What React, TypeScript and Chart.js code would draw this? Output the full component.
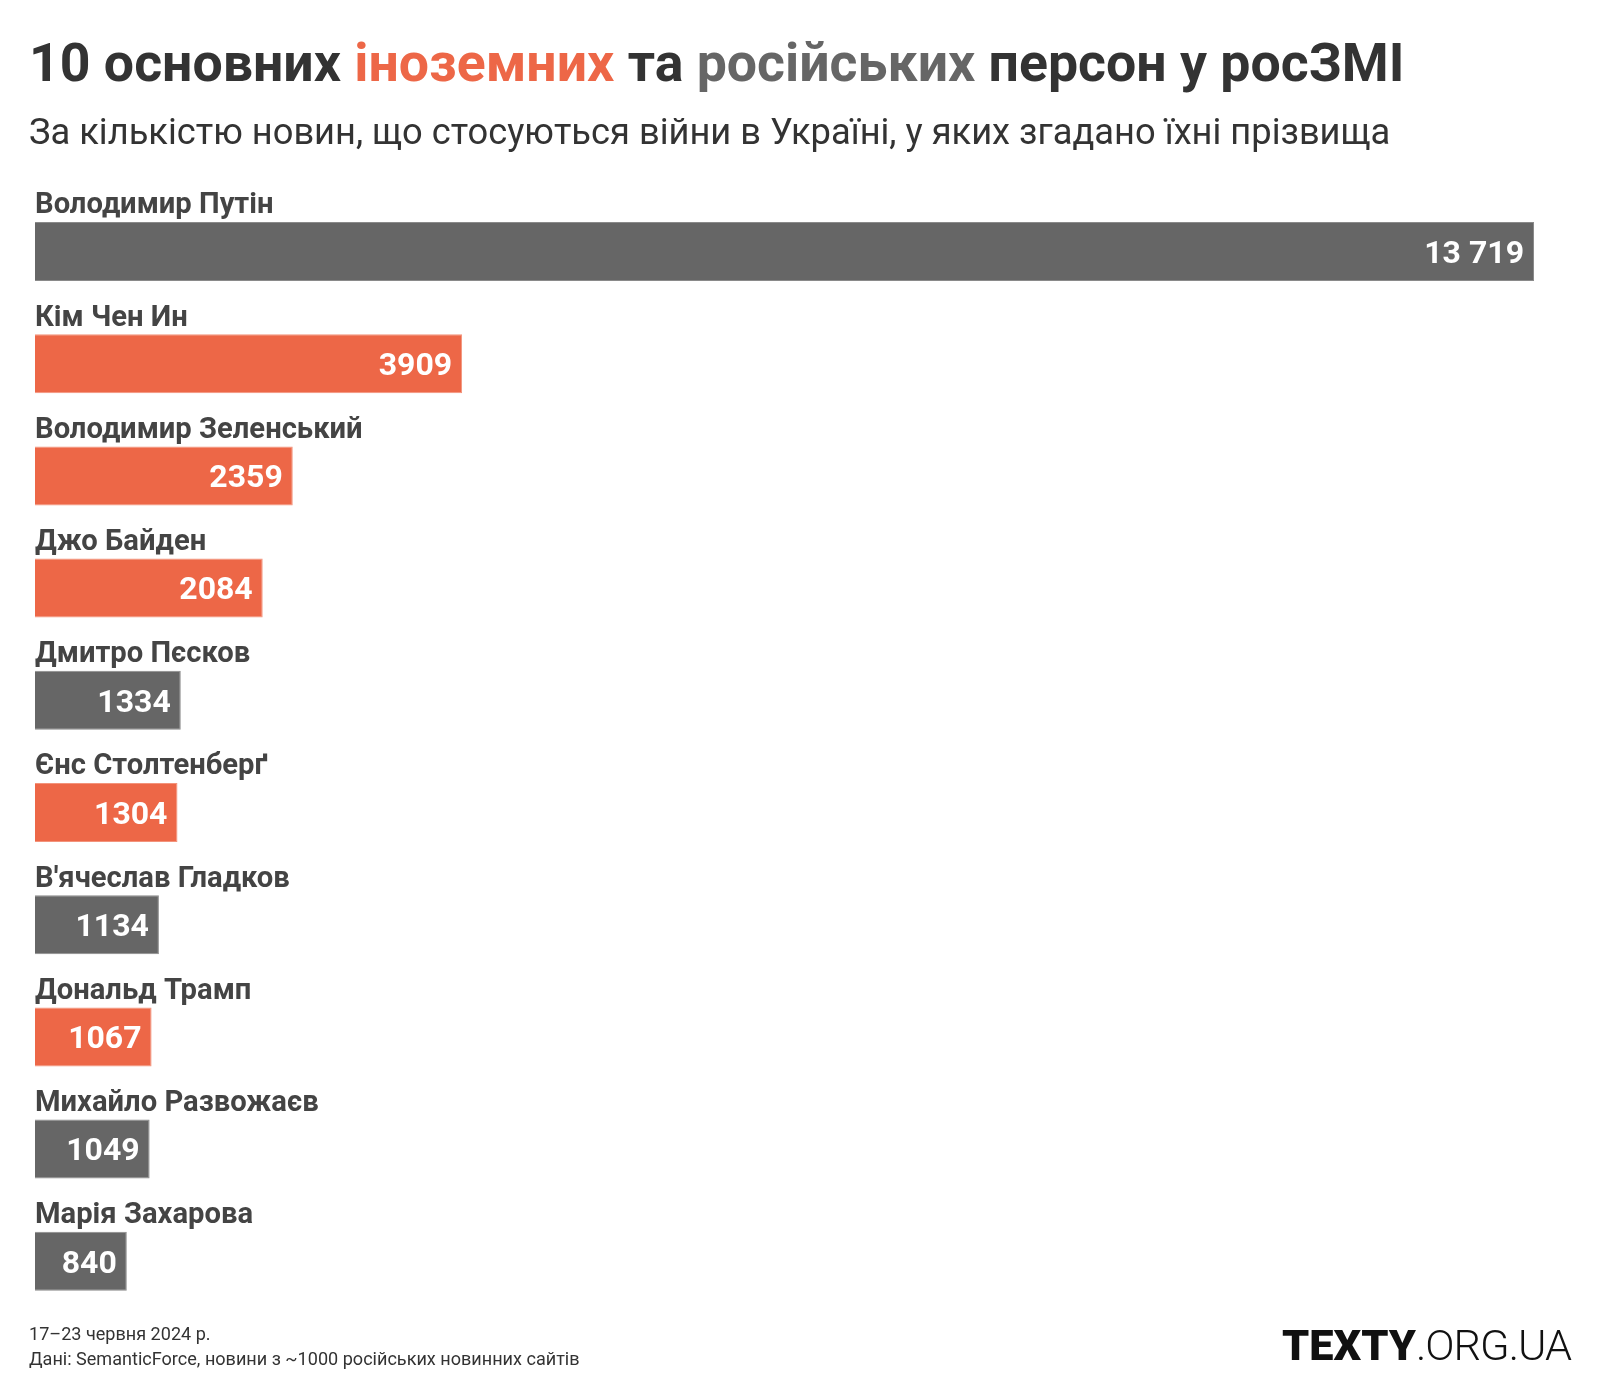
import React, { useEffect, useRef } from "react";
import { Chart, registerables } from "chart.js";

Chart.register(...registerables);

const names = [
  "Володимир Путін",
  "Кім Чен Ин",
  "Володимир Зеленський",
  "Джо Байден",
  "Дмитро Пєсков",
  "Єнс Столтенберґ",
  "В'ячеслав Гладков",
  "Дональд Трамп",
  "Михайло Развожаєв",
  "Марія Захарова",
];
const values = [13719, 3909, 2359, 2084, 1334, 1304, 1134, 1067, 1049, 840];
const groups = ["ru", "foreign", "foreign", "foreign", "ru", "foreign", "ru", "foreign", "ru", "ru"];

const titleTexts = ["10 основних ", "іноземних", " та ", "російських", " персон у росЗМІ"];
const titleColors = ["#333333", "#ED6747", "#333333", "#666666", "#333333"];
const subtitle = "За кількістю новин, що стосуються війни в Україні, у яких згадано їхні прізвища";
const footerLines = ["17–23 червня 2024 р.", "Дані: SemanticForce, новини з ~1000 російських новинних сайтів"];
const logoParts = ["TEXTY", ".ORG.UA"];

const FAMILY = "Roboto, 'Noto Sans', sans-serif";
const ORANGE = "#ED6747";
const GRAY = "#666666";

function fitSize(ctx: CanvasRenderingContext2D, text: string, weight: string, target: number) {
  ctx.font = `${weight} 100px ${FAMILY}`;
  return (100 * target) / ctx.measureText(text).width;
}

function formatValue(v: number) {
  const s = String(v);
  if (v < 10000) return s;
  return s.replace(/\B(?=(\d{3})+(?!\d))/g, " ");
}

const textPlugin = {
  id: "textPlugin",
  afterDraw(chart: any) {
    const ctx: CanvasRenderingContext2D = chart.ctx;
    ctx.save();
    ctx.textBaseline = "alphabetic";
    ctx.textAlign = "left";
    const fullTitle = titleTexts.join("");
    const tSize = fitSize(ctx, fullTitle, "bold", 1376);
    ctx.font = `bold ${tSize}px ${FAMILY}`;
    let x = 29;
    titleTexts.forEach((t, i) => {
      ctx.fillStyle = titleColors[i];
      ctx.fillText(t, x, 81);
      x += ctx.measureText(t).width;
    });
    const sSize = fitSize(ctx, subtitle, "normal", 1362);
    ctx.font = `normal ${sSize}px ${FAMILY}`;
    ctx.fillStyle = "#333333";
    ctx.fillText(subtitle, 29, 144);
    const fSize = fitSize(ctx, footerLines[1], "normal", 551);
    ctx.font = `normal ${fSize}px ${FAMILY}`;
    ctx.fillStyle = "#333333";
    ctx.fillText(footerLines[0], 29, 1340);
    ctx.fillText(footerLines[1], 29, 1365);
    const lSize = fitSize(ctx, logoParts[0], "900", 134);
    ctx.font = `900 ${lSize}px ${FAMILY}`;
    ctx.fillStyle = "#111111";
    ctx.fillText(logoParts[0], 1282, 1360);
    ctx.font = `300 ${lSize}px ${FAMILY}`;
    const w2 = ctx.measureText(logoParts[1]).width;
    const ls = (155 - w2) / logoParts[1].length;
    (ctx as any).letterSpacing = `${ls}px`;
    ctx.fillText(logoParts[1], 1416, 1360);
    (ctx as any).letterSpacing = "0px";
    ctx.restore();
  },
};

const valuePlugin = {
  id: "valuePlugin",
  afterDatasetsDraw(chart: any) {
    const ctx: CanvasRenderingContext2D = chart.ctx;
    const meta = chart.getDatasetMeta(0);
    const size = 32;
    ctx.save();
    ctx.font = `bold ${size}px ${FAMILY}`;
    ctx.fillStyle = "#ffffff";
    ctx.textAlign = "right";
    ctx.textBaseline = "alphabetic";
    meta.data.forEach((el: any, i: number) => {
      ctx.fillText(formatValue(values[i]), el.x - 10, el.y + size * 0.711 / 2);
    });
    ctx.restore();
  },
};

export default function App() {
  const ref = useRef<HTMLCanvasElement | null>(null);
  useEffect(() => {
    if (!ref.current) return;
    const mctx = document.createElement("canvas").getContext("2d")!;
    const labelSize = Math.round(fitSize(mctx, "Володимир Зеленський", "bold", 334) * 0.98 * 10) / 10;
    const step = 112.2;
    const barThick = 59;
    const labelOffset = -(barThick / 2 + 10 + 0.34 * labelSize) + 4;
    const chart = new Chart(ref.current, {
      type: "bar",
      data: {
        labels: names,
        datasets: [
          {
            data: values,
            backgroundColor: groups.map((g) => (g === "ru" ? GRAY : ORANGE)),
            borderColor: groups.map((g) => (g === "ru" ? "#8a8a8a" : "#F3937B")),
            borderWidth: 1,
            categoryPercentage: 1,
            barPercentage: barThick / step,
          },
        ],
      },
      options: {
        indexAxis: "y",
        responsive: false,
        animation: false,
        layout: { padding: { left: 35, right: 66, top: 195.4, bottom: 82.6 } },
        plugins: {
          legend: { display: false },
          tooltip: { enabled: false },
          title: { display: false },
        },
        scales: {
          x: { display: false, min: 0, max: Math.max(...values) },
          y: {
            display: true,
            grid: { display: false, drawTicks: false },
            border: { display: false },
            ticks: {
              mirror: true,
              padding: 0,
              labelOffset,
              autoSkip: false,
              color: "#444444",
              font: { family: FAMILY, weight: "bold", size: labelSize },
            },
          },
        },
      },
      plugins: [valuePlugin, textPlugin],
    } as any);
    return () => chart.destroy();
  }, []);
  return (
    <div style={{ position: "absolute", left: 0, top: 0, width: 1600, height: 1400, background: "#ffffff" }}>
      <canvas ref={ref} width={1600} height={1400} style={{ display: "block", width: 1600, height: 1400 }} />
    </div>
  );
}
